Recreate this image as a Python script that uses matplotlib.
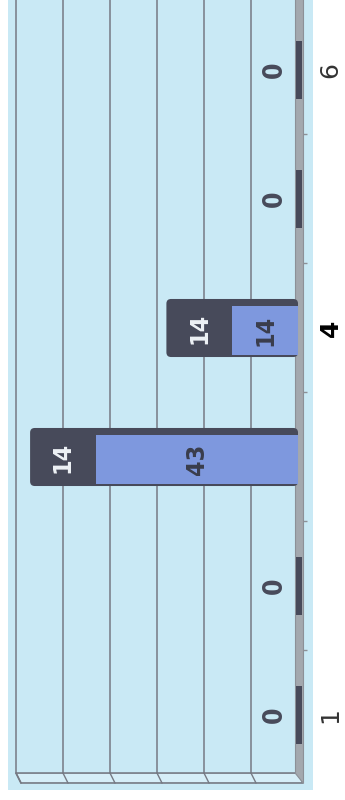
import numpy as np
import matplotlib.pyplot as plt
from matplotlib.patches import FancyBboxPatch, Polygon

categories = [1, 2, 3, 4, 5, 6]
tick_labels = ['1', '4', '6']
tick_positions = [1, 4, 6]
lower_vals = [0, 0, 43, 14, 0, 0]
upper_vals = [0, 0, 14, 14, 0, 0]

BG = '#c9e9f5'
LIGHT = '#7e98de'
DARK = '#474a5a'
GRID = '#767a84'
WALL = '#a3a8ae'
LABEL_FONT = ['Liberation Sans Narrow', 'DejaVu Sans']


def main():
    cats = np.array(categories, dtype=float)
    low = np.array(lower_vals, dtype=float)
    up = np.array(upper_vals, dtype=float)
    total = low + up

    fig = plt.figure(figsize=(3.45, 8), dpi=100)
    ax = fig.add_axes([8 / 345, 10 / 800, 305 / 345, 790 / 800])
    ax.set_facecolor(BG)
    ax.set_xlim(61.7, -3.19)
    ax.set_ylim(0.4186, 6.5426)

    back = 0.55     # back wall floor line
    front = 0.473   # front floor edge
    dx = 1.06       # depth offset in value units

    # floor strip
    floor = Polygon([(60, back), (0, back), (-dx, front), (60 - dx, front)],
                    closed=True, facecolor='#d6eef8', edgecolor=GRID, lw=1.2, zorder=1)
    ax.add_patch(floor)
    # right wall (the value axis base)
    wall = Polygon([(0.6, back), (0.6, 7), (-dx, 7), (-dx, front)],
                   closed=True, facecolor=WALL, edgecolor='#8c9097', lw=0.8, zorder=1)
    ax.add_patch(wall)

    # grid lines on the back wall
    for v in range(10, 70, 10):
        ax.plot([v, v], [back, 7], color=GRID, lw=1.1, zorder=1)
        ax.plot([v, v - dx], [back, front], color=GRID, lw=1.0, zorder=1)

    # minor ticks between categories
    ax.hlines(cats[:-1] + 0.5, -dx, -1.9, color='#8c9097', lw=1, zorder=1)

    h = 0.45
    for c, lo, t in zip(cats, low, total):
        if t == 0:
            # flat stub for empty bars
            ax.barh(c, 1.25, left=-0.85, height=h, color=DARK, zorder=3)
            ax.text(4.9, c, '0', rotation=90, ha='center', va='center',
                    fontsize=19, fontweight='bold', fontstretch='condensed',
                    color=DARK, family=LABEL_FONT, zorder=4)
            continue
        box = FancyBboxPatch((0, c - h / 2), t, h,
                             boxstyle='round,pad=0,rounding_size=1.0',
                             mutation_aspect=0.036, facecolor=DARK, edgecolor='none', zorder=3)
        ax.add_patch(box)

    ax.barh(cats - 0.02, low, height=0.38, color=LIGHT, zorder=4)

    for c, lo, u in zip(cats, low, up):
        if lo + u == 0:
            continue
        ax.text(lo / 2, c - 0.02, f'{lo:.0f}', rotation=90, ha='center', va='center',
                fontsize=18, fontweight='bold', fontstretch='condensed',
                color='#3a3d4c', family=LABEL_FONT, zorder=5)
        ax.text(lo + u / 2, c, f'{u:.0f}', rotation=90, ha='center', va='center',
                fontsize=18, fontweight='bold', fontstretch='condensed',
                color='#eef2f6', family=LABEL_FONT, zorder=5)

    ax.yaxis.tick_right()
    ax.set_yticks(tick_positions)
    ax.set_yticklabels(tick_labels, rotation=90, fontsize=18, va='center')
    for lbl in ax.get_yticklabels():
        if lbl.get_text() == '4':
            lbl.set_fontweight('bold')
            lbl.set_color('black')
        else:
            lbl.set_color('#333333')
    ax.tick_params(axis='y', length=0, pad=4)
    ax.set_xticks([])
    for s in ax.spines.values():
        s.set_visible(False)

    fig.savefig('out.png', dpi=100)


if __name__ == '__main__':
    main()
